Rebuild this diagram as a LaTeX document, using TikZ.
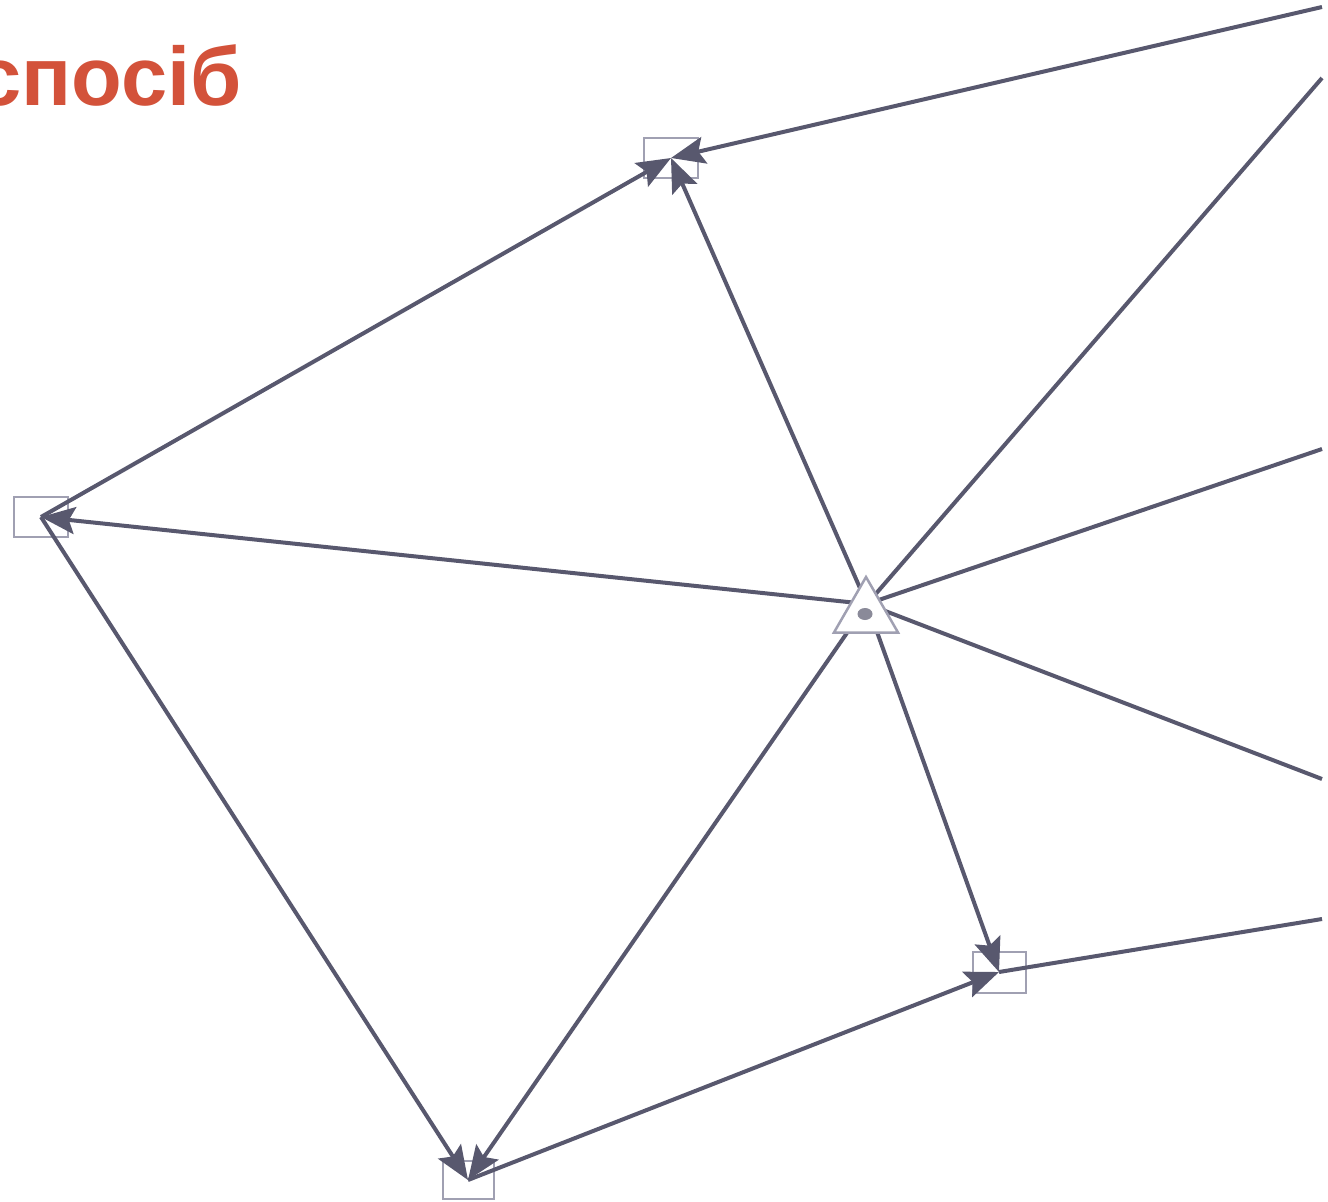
\documentclass[tikz,border=0pt]{standalone}
\usepackage{fontspec}
\setmainfont{Liberation Sans}
\usetikzlibrary{arrows.meta,shapes.geometric}
\definecolor{titlecol}{RGB}{211,82,58}
\definecolor{linecol}{RGB}{88,88,110}
\definecolor{boxcol}{RGB}{160,160,178}
\begin{document}
\begin{tikzpicture}[x=1pt,y=-1pt,
  box/.style={draw=boxcol,line width=2pt,minimum width=54pt,minimum height=40pt,inner sep=0pt},
  edge/.style={draw=linecol,line width=4pt},
  arr/.style={-{Stealth[length=34pt,width=27pt,inset=6pt]}},
  tri/.style={regular polygon,regular polygon sides=3,minimum size=74pt,draw=boxcol,line width=2.5pt,fill=white,inner sep=0pt},
  dotnode/.style={ellipse,fill=linecol!70,minimum width=15pt,minimum height=12pt,inner sep=0pt},
  title/.style={text=titlecol,font=\fontsize{83}{90}\selectfont\bfseries,inner sep=0pt}]
\useasboundingbox (0,0) rectangle (1328,1202);
\clip (0,0) rectangle (1328,1202);
\node[title,anchor=base east] (title) at (242,105) {спосіб};
\node[box] (A) at (671,158) {};
\node[box] (B) at (41,517) {};
\node[box,minimum width=53pt,minimum height=41pt] (C) at (999,972) {};
\node[box,minimum width=51pt,minimum height=38pt] (D) at (468,1180) {};
\coordinate (H) at (867,604);
\coordinate (R1) at (1322,7);
\coordinate (R2) at (1322,78);
\coordinate (R3) at (1322,449);
\coordinate (R4) at (1322,779);
\coordinate (R5) at (1322,919);
\draw[edge,arr] (R1) -- (A.center);
\draw[edge,arr] (B.center) -- (A.center);
\draw[edge,arr] (H) -- (A.center);
\draw[edge,arr] (H) -- (B.center);
\draw[edge,arr] (B.center) -- (D.center);
\draw[edge,arr] (H) -- (D.center);
\draw[edge,arr] (D.center) -- (C.center);
\draw[edge,arr] (H) -- (C.center);
\draw[edge] (C.center) -- (R5);
\draw[edge] (H) -- (R2);
\draw[edge] (H) -- (R3);
\draw[edge] (H) -- (R4);
\node[tri] (T) at (866,614) {};
\node[dotnode] (E) at (865,614) {};
\end{tikzpicture}
\end{document}
